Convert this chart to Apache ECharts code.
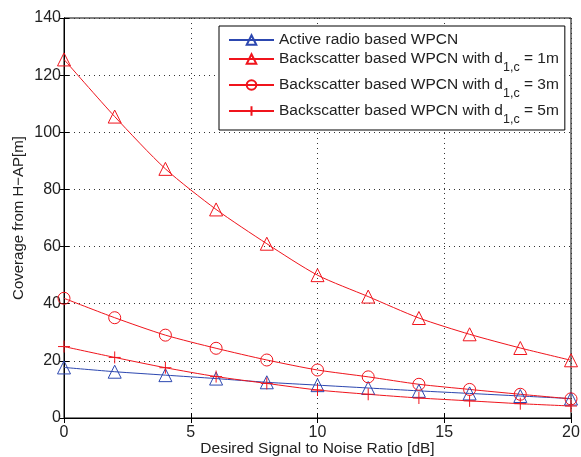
<!DOCTYPE html>
<html>
<head>
<meta charset="utf-8">
<script src="https://cdn.jsdelivr.net/npm/echarts@6/dist/echarts.min.js"></script>
<style>
	html, body {margin: 0; padding: 0; background: #fff;}
	#chart {width: 581px; height: 457px;}
</style>
</head>
<body>
<div id="chart"></div>
<script type="text/javascript">
// data
var snr = [0, 2, 4, 6, 8, 10, 12, 14, 16, 18, 20];
var activeWpcn = [17.7, 16.2, 15.0, 13.8, 12.5, 11.5, 10.5, 9.5, 8.6, 7.7, 6.8];
var backscatter1m = [125.5, 105.5, 87.2, 73.0, 61.0, 50.0, 42.5, 35.0, 29.3, 24.5, 20.2];
var backscatter3m = [41.9, 35.1, 29.0, 24.4, 20.3, 16.8, 14.4, 11.8, 10.0, 8.3, 6.7];
var backscatter5m = [25.0, 21.2, 17.6, 14.5, 12.1, 9.8, 8.3, 7.0, 6.0, 5.0, 4.2];
var xTicks = [0, 5, 10, 15, 20];
var yTicks = [0, 20, 40, 60, 80, 100, 120, 140];

var red = '#f0141c';
var blue = '#2c47b0';
var plus = 'path://M0,-10 L0,10 M-10,0 L10,0';

function pairs(ys) {
	var out = [];
	for (var i = 0; i < ys.length; i++) out.push([snr[i], ys[i]]);
	return out;
}

function serie(name, ys, color, symbol, size) {
	return {
		name: name,
		type: 'line',
		data: pairs(ys),
		symbol: symbol,
		symbolSize: size,
		showAllSymbol: true,
		smooth: 0.25,
		lineStyle: {color: color, width: 1},
		itemStyle: {color: 'rgba(0,0,0,0)', borderColor: color, borderWidth: 1},
		emphasis: {disabled: true},
		animation: false
	};
}

var font = 'Liberation Sans, Arial, sans-serif';
var txt = '#222';
var option = {
	backgroundColor: '#fff',
	animation: false,
	grid: {
		left: 64,
		right: 10,
		top: 18,
		bottom: 39,
		containLabel: false,
		outerBoundsMode: 'none',
		show: true,
		borderColor: '#000',
		borderWidth: 1
	},
	legend: {
		orient: 'vertical',
		left: 219,
		top: 26,
		padding: [6, 6, 4, 9],
		itemWidth: 45,
		itemHeight: 12,
		itemGap: 3,
		backgroundColor: '#fff',
		borderColor: '#000',
		borderWidth: 1,
		selectedMode: false,
		data: ['a', 'b1', 'b3', 'b5'],
		formatter: function(name) {
			if (name === 'a') return 'Active radio based WPCN';
			var d = name.substring(1);
			return 'Backscatter based WPCN with d{sub|1,c} = ' + d + 'm';
		},
		textStyle: {
			fontFamily: font,
			fontSize: 15.5,
			color: txt,
			rich: {
				sub: {fontFamily: font, fontSize: 12.5, color: txt, verticalAlign: 'bottom', padding: [17, 0, 0, 0]}
			}
		}
	},
	xAxis: [{
		type: 'value',
		min: 0,
		max: 20,
		interval: 5,
		name: 'Desired Signal to Noise Ratio [dB]',
		nameLocation: 'middle',
		nameGap: 23,
		nameMoveOverlap: false,
		nameTextStyle: {fontFamily: font, fontSize: 15.5, color: txt},
		axisLine: {show: true, lineStyle: {color: '#000'}},
		axisTick: {inside: true, length: 5, lineStyle: {color: '#000'}},
		axisLabel: {fontFamily: font, fontSize: 16, color: txt, margin: 7},
		splitLine: {show: true, lineStyle: {color: '#333', type: [1, 4], width: 1}}
	}, {
		type: 'value',
		position: 'top',
		min: 0,
		max: 20,
		interval: 5,
		axisLine: {show: true, lineStyle: {color: '#000'}},
		axisTick: {inside: true, length: 5, lineStyle: {color: '#000'}},
		axisLabel: {show: false},
		splitLine: {show: false}
	}],
	yAxis: [{
		type: 'value',
		min: 0,
		max: 140,
		interval: 20,
		name: 'Coverage from H\u2212AP[m]',
		nameLocation: 'middle',
		nameGap: 38,
		nameMoveOverlap: false,
		nameTextStyle: {fontFamily: font, fontSize: 15, color: txt},
		axisLine: {show: true, lineStyle: {color: '#000'}},
		axisTick: {inside: true, length: 5, lineStyle: {color: '#000'}},
		axisLabel: {fontFamily: font, fontSize: 16, color: txt, margin: 3},
		splitLine: {show: true, lineStyle: {color: '#333', type: [1, 4], width: 1}}
	}, {
		type: 'value',
		position: 'right',
		min: 0,
		max: 140,
		interval: 20,
		axisLine: {show: true, lineStyle: {color: '#000'}},
		axisTick: {inside: true, length: 5, lineStyle: {color: '#000'}},
		axisLabel: {show: false},
		splitLine: {show: false}
	}],
	series: [
		serie('a', activeWpcn, blue, 'triangle', 13),
		serie('b1', backscatter1m, red, 'triangle', 13),
		serie('b3', backscatter3m, red, 'circle', 12),
		serie('b5', backscatter5m, red, plus, 12)
	]
};

var myChart = echarts.init(document.getElementById('chart'), null, {renderer: 'canvas'});
myChart.setOption(option);
</script>
</body>
</html>
